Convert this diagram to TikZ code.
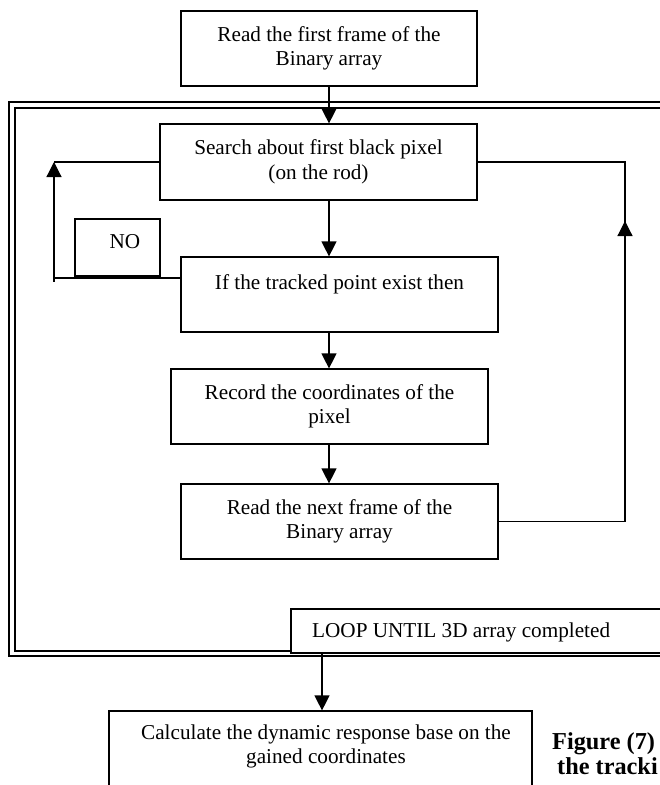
\documentclass[tikz,border=0pt]{standalone}
\usepackage{fontspec}
\setmainfont{Liberation Serif}
\usetikzlibrary{arrows.meta}
\begin{document}
\begin{tikzpicture}[x=1pt,y=-1pt,
  flowbox/.style={draw, line width=1.2pt, fill=white, align=center, inner sep=0pt,
    font=\fontsize{21.2}{24.5}\selectfont},
  txt/.style={inner sep=0pt, align=center, font=\fontsize{21.2}{24.5}\selectfont},
  conn/.style={line width=1.2pt},
  arr/.style={conn, -{Triangle[width=15pt,length=15pt]}},
  captxt/.style={inner sep=0pt, anchor=base west, font=\bfseries\fontsize{24.3}{26}\selectfont}]
\useasboundingbox (0,0) rectangle (660,785);
\clip (0,0) rectangle (660,785);
\fill[white] (0,0) rectangle (660,785);
% double frame
\draw[line width=2.4pt] (9,102) rectangle (720,656);
\draw[line width=1.1pt] (15,108) rectangle (720,651);
% nodes
\node[flowbox, minimum width=296pt, minimum height=75pt] (top) at (329,48.5) {Read the first frame of the\\Binary array};
\node[flowbox, minimum width=317pt, minimum height=76pt] (search) at (318.5,162) {Search about first black pixel\\(on the rod)};
\node[flowbox, minimum width=85pt, minimum height=57pt] (nobox) at (117.5,247.5) {};
\node[txt] (notext) at (125,242) {NO};
\node[flowbox, minimum width=317pt, minimum height=75pt] (ifbox) at (339.5,294.5) {If the tracked point exist then\\\mbox{}};
\node[flowbox, minimum width=317pt, minimum height=75pt] (record) at (329.5,406.5) {Record the coordinates of the\\pixel};
\node[flowbox, minimum width=317pt, minimum height=75pt] (next) at (339.5,521.5) {Read the next frame of the\\Binary array};
\node[flowbox, minimum width=409pt, minimum height=44pt] (loop) at (495.5,631) {};
\node[txt, anchor=west] (looptext) at (312,632) {LOOP UNTIL 3D array completed};
\node[flowbox, minimum width=423pt, minimum height=90pt] (calc) at (320.5,756) {};
\node[txt] (calctext) at (326,746.5) {Calculate the dynamic response base on the\\gained coordinates};
\node[captxt] (cap1) at (552,749) {Figure (7)};
\node[captxt] (cap2) at (557,774) {the tracki};
% helper coordinates
\coordinate (ax) at (329,0);
\coordinate (lx) at (322,0);
\coordinate (cLb) at (54,278);
\coordinate (cLt) at (54,162);
\coordinate (cRt) at (625,162);
\coordinate (cRa) at (625,221);
% connectors
\draw[arr] (ax |- top.south) -- (ax |- search.north);
\draw[arr] (ax |- search.south) -- (ax |- ifbox.north);
\draw[arr] (ax |- ifbox.south) -- (ax |- record.north);
\draw[arr] (ax |- record.south) -- (ax |- next.north);
\draw[arr] (lx |- loop.south) -- (lx |- calc.north);
\draw[conn] (cLb -| ifbox.west) -- (cLb) -- ++(0,4);
\draw[arr] (cLb) -- (cLt);
\draw[conn] (cLt) -- (search.west);
\draw[conn] (next.east) -| (cRt) -- (search.east);
\draw[arr] (cRa |- next.east) -- (cRa);
\end{tikzpicture}
\end{document}
